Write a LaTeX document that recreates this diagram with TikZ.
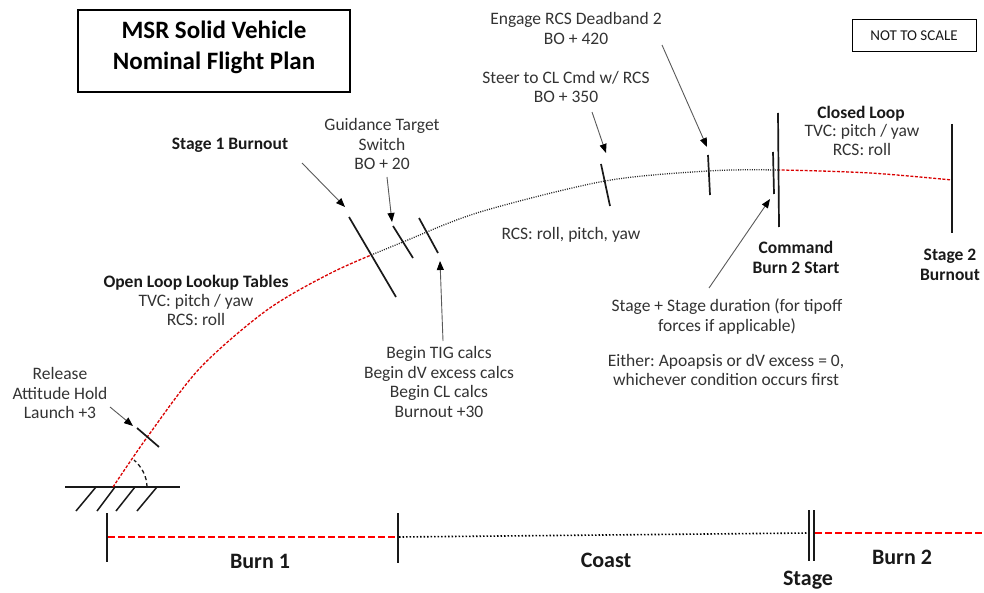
\documentclass[tikz,border=0pt]{standalone}
\usepackage{fontspec}
\setmainfont{Carlito}
\usetikzlibrary{arrows.meta}
\newcommand\rfont{\fontsize{17.5}{19.5}\selectfont}
\newcommand\tfont{\fontsize{25}{31}\selectfont\bfseries}
\newcommand\bfont{\fontsize{22}{26}\selectfont\bfseries}
\newcommand\nfont{\fontsize{15}{18}\selectfont}
\frenchspacing
\begin{document}
\begin{tikzpicture}[x=1pt,y=-1pt,
  lbl/.style={font=\rfont, text=black!80, align=center, inner sep=0pt},
  blbl/.style={font=\rfont\bfseries, text=black!90, align=center, inner sep=0pt},
  botlbl/.style={font=\bfont, text=black!90, inner sep=0pt},
  ticks/.style={line width=1.7pt, black!90},
  pointer/.style={draw=black!65, line width=0.9pt, -{Triangle[length=9pt,width=7pt,black]}},
  reddash/.style={red!85!black, line width=1.3pt, dash pattern=on 3pt off 1.6pt},
  blackdot/.style={black!85, line width=1.3pt, dash pattern=on 1pt off 1.3pt},
  botred/.style={red, line width=1.6pt, dash pattern=on 6.5pt off 3.5pt},
  botdot/.style={black, line width=1.6pt, dash pattern=on 1.5pt off 2pt},
]
\useasboundingbox (0,0) rectangle (984,593);

% title and note
\node[draw, line width=1.5pt, minimum width=272pt, minimum height=82pt, inner sep=0pt] (title) at (214,51) {};
\node[font=\tfont, align=center, inner sep=0pt] (titletext) at (214,47.5) {MSR Solid Vehicle\\Nominal Flight Plan};
\node[draw, line width=1pt, minimum width=124pt, minimum height=32pt, inner sep=0pt, font=\nfont, text=black!90] (nts) at (914,36) {NOT TO SCALE};

% ground
\coordinate (g1) at (65,487); \coordinate (g2) at (180,487);
\draw[line width=1.5pt, black!90] (g1) -- (g2);
\foreach \i/\xa/\xb in {1/76/96, 2/97/115, 3/116/135, 4/137/157}{
  \coordinate (ha\i) at (\xa,511); \coordinate (hb\i) at (\xb,487);
  \draw[line width=1.5pt, black!90] (ha\i) -- (hb\i);
}
\coordinate (arcA) at (147,487); \coordinate (arcB) at (134,460);
\draw[black!90, line width=1.3pt, dash pattern=on 4pt off 3pt] (arcA) .. controls (147,476) and (141,466) .. (arcB);

% trajectory
\begin{scope}
\clip (0,0) rectangle (372,593);
\draw[reddash] plot[smooth] coordinates {(113,487) (148,436) (200,368) (267,310) (333,272) (403,242) (480,212) (605,181) (708,171) (778,170) (870,173) (952,180)};
\end{scope}
\begin{scope}
\clip (372,0) rectangle (778,593);
\draw[blackdot] plot[smooth] coordinates {(113,487) (148,436) (200,368) (267,310) (333,272) (403,242) (480,212) (605,181) (708,171) (778,170) (870,173) (952,180)};
\end{scope}
\begin{scope}
\clip (778,0) rectangle (984,593);
\draw[reddash] plot[smooth] coordinates {(113,487) (148,436) (200,368) (267,310) (333,272) (403,242) (480,212) (605,181) (708,171) (778,170) (870,173) (952,180)};
\end{scope}

% event ticks on trajectory
\coordinate (relA) at (137,428); \coordinate (relB) at (159,447);
\coordinate (s1A) at (349,217); \coordinate (s1B) at (396,297);
\coordinate (gtA) at (393,226); \coordinate (gtB) at (413,258);
\coordinate (tigA) at (419,218); \coordinate (tigB) at (438,253);
\coordinate (stA) at (601,164); \coordinate (stB) at (610,206);
\coordinate (enA) at (708,155); \coordinate (enB) at (710,195);
\coordinate (cmA) at (773,152); \coordinate (cmB) at (774,194);
\coordinate (clA) at (778,113); \coordinate (clB) at (779,227);
\coordinate (s2A) at (952,124); \coordinate (s2B) at (952,233);
\foreach \p in {rel,s1,gt,tig,st,en,cm,cl,s2}{\draw[ticks] (\p A) -- (\p B);}

% labels
\node[lbl] (rel) at (60,393) {Release\\Attitude Hold\\Launch +3};
\node[blbl] (oll) at (196,283) {Open Loop Lookup Tables};
\node[lbl, anchor=north] (olltxt) at (196,294) {TVC: pitch / yaw\\RCS: roll};
\node[blbl] (s1) at (230,145) {Stage 1 Burnout};
\node[lbl] (gt) at (382,144) {Guidance Target\\Switch\\BO + 20};
\node[lbl] (tig) at (439,382) {Begin TIG calcs\\Begin dV excess calcs\\Begin CL calcs\\Burnout +30};
\node[lbl] (en) at (576,28.5) {Engage RCS Deadband 2\\BO + 420};
\node[lbl] (st) at (566,87) {Steer to CL Cmd w/ RCS\\BO + 350};
\node[lbl] (rcs) at (571,235) {RCS: roll, pitch, yaw};
\node[blbl] (cl) at (861,114) {Closed Loop};
\node[lbl, anchor=north] (cltxt) at (862,124) {TVC: pitch / yaw\\RCS: roll};
\node[blbl] (cmd) at (796,257.5) {Command\\Burn 2 Start};
\node[blbl] (s2) at (950,265) {Stage 2\\Burnout};
\node[lbl] (stg) at (727,316.5) {Stage + Stage duration (for tipoff\\forces if applicable)};
\node[lbl] (eith) at (726,370) {Either: Apoapsis or dV excess = 0,\\whichever condition occurs first};

% pointers
\coordinate (ps1) at (110,407); \coordinate (pe1) at (133,426);
\coordinate (ps2) at (302,163); \coordinate (pe2) at (345,207);
\coordinate (ps3) at (387,177); \coordinate (pe3) at (392,222);
\coordinate (ps4) at (443,341); \coordinate (pe4) at (440,261);
\coordinate (ps5) at (592,112); \coordinate (pe5) at (606,153);
\coordinate (ps6) at (662,45); \coordinate (pe6) at (707,147);
\coordinate (ps7) at (709,288); \coordinate (pe7) at (770,199);
\foreach \i in {1,...,7}{\draw[pointer] (ps\i) -- (pe\i);}

% bottom timeline
\coordinate (b1A) at (107,513); \coordinate (b1B) at (107,562);
\coordinate (b2A) at (398,513); \coordinate (b2B) at (398,563);
\coordinate (b3A) at (809,510); \coordinate (b3B) at (809,561);
\coordinate (b4A) at (814,510); \coordinate (b4B) at (814,561);
\coordinate (r1s) at (108,537); \coordinate (r1e) at (397,537);
\coordinate (d1s) at (399,537); \coordinate (d1e) at (808,533);
\coordinate (r2s) at (815,533); \coordinate (r2e) at (984,533);
\draw[botred] (r1s) -- (r1e);
\draw[botdot] (d1s) -- (d1e);
\draw[botred] (r2s) -- (r2e);
\draw[ticks] (b1A) -- (b1B);
\draw[ticks] (b2A) -- (b2B);
\draw[line width=1.4pt, black!90] (b3A) -- (b3B);
\draw[line width=1.4pt, black!90] (b4A) -- (b4B);
\node[botlbl] (burn1) at (260,561) {Burn 1};
\node[botlbl] (coast) at (606,560) {Coast};
\node[botlbl] (burn2) at (902,557) {Burn 2};
\node[botlbl] (stage) at (808,580) {Stage};
\end{tikzpicture}
\end{document}
